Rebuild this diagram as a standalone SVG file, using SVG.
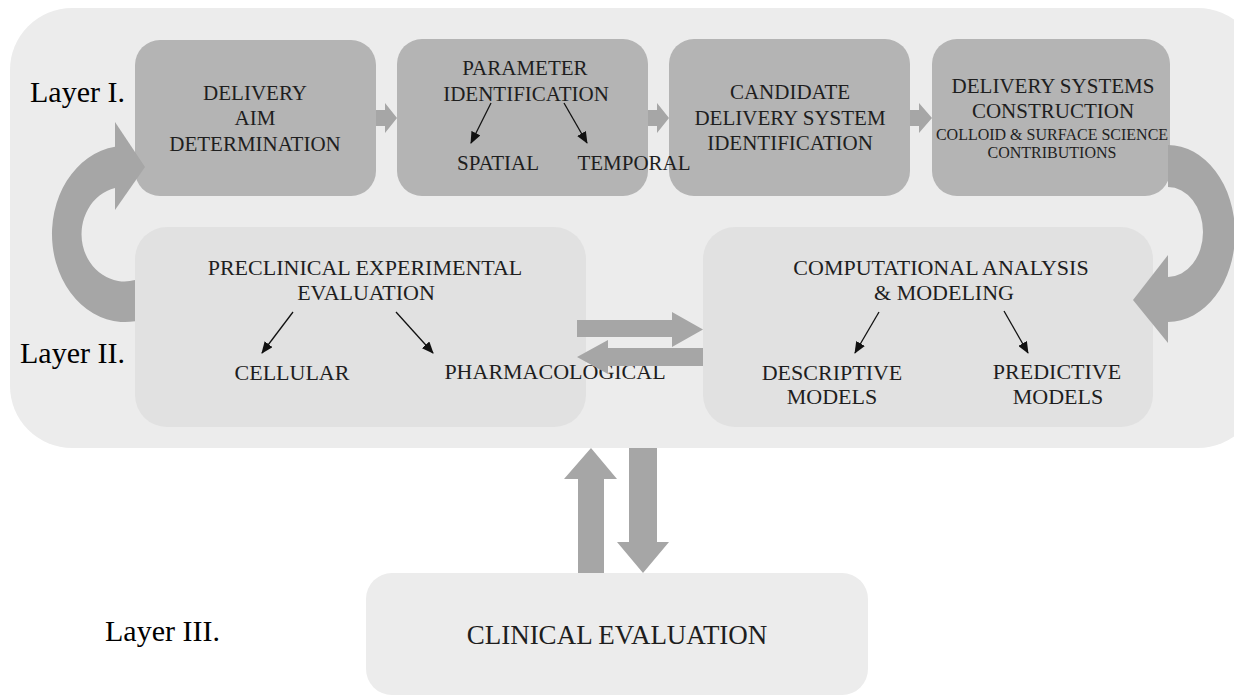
<svg xmlns="http://www.w3.org/2000/svg" width="1234" height="697" viewBox="0 0 1234 697">
<defs>
<style>
.l1{fill:#b4b4b4}
.l2{fill:#e1e1e1}
.cl{fill:#ececec}
.big{fill:#a6a6a6}
.t{font-family:"Liberation Serif","Times New Roman",serif;fill:#1e1e1e;text-anchor:middle}
.t21{font-size:21px}
.t22{font-size:22px}
.t16{font-size:16px}
.lay{font-family:"Liberation Serif","Times New Roman",serif;font-size:30px;fill:#000}
.thin{stroke:#111;stroke-width:1.3;fill:none;marker-end:url(#ah)}
</style>
<marker id="ah" markerUnits="userSpaceOnUse" markerWidth="12" markerHeight="10" refX="11" refY="5" orient="auto">
<path d="M0,0 L12,5 L0,10 Z" fill="#111"/>
</marker>
</defs>
<rect width="1234" height="697" fill="#ffffff"/>
<rect id="background" x="10" y="8" width="1250" height="440" rx="62" fill="#ececec"/>

<text class="lay" x="30" y="102">Layer I.</text>
<text class="lay" x="20" y="363">Layer II.</text>
<text class="lay" x="105" y="641">Layer III.</text>

<g id="delivery-aim">
<rect class="l1" x="135" y="40" width="241" height="156" rx="25"/>
<text class="t t21" x="255" y="100">DELIVERY</text>
<text class="t t21" x="255" y="125">AIM</text>
<text class="t t21" x="255" y="151">DETERMINATION</text>
</g>
<g id="candidate-system">
<rect class="l1" x="669" y="39" width="241" height="157" rx="25"/>
<text class="t t21" x="790" y="99">CANDIDATE</text>
<text class="t t21" x="790" y="125">DELIVERY SYSTEM</text>
<text class="t t21" x="790" y="150">IDENTIFICATION</text>
</g>
<g id="parameter-identification">
<rect class="l1" x="397" y="39" width="251" height="157" rx="25"/>
<text class="t t21" x="525" y="75">PARAMETER</text>
<text class="t t21" x="526" y="101">IDENTIFICATION</text>
<text class="t t21" x="498" y="170">SPATIAL</text>
<text class="t t21" x="634" y="170">TEMPORAL</text>
</g>
<g id="systems-construction">
<rect class="l1" x="932" y="39" width="238" height="157" rx="25"/>
<text class="t t21" x="1053" y="93">DELIVERY SYSTEMS</text>
<text class="t t21" x="1053" y="118">CONSTRUCTION</text>
<text class="t t16" x="1052" y="140">COLLOID &amp; SURFACE SCIENCE</text>
<text class="t t16" x="1052" y="158">CONTRIBUTIONS</text>
</g>

<g id="preclinical">
<rect class="l2" x="135" y="227" width="451" height="200" rx="32"/>
<text class="t t22" x="365" y="275">PRECLINICAL EXPERIMENTAL</text>
<text class="t t22" x="366" y="300">EVALUATION</text>
<text class="t t22" x="292" y="380">CELLULAR</text>
<text class="t t22" x="555" y="379">PHARMACOLOGICAL</text>
</g>
<g id="computational">
<rect class="l2" x="703" y="227" width="450" height="200" rx="32"/>
<text class="t t22" x="941" y="275">COMPUTATIONAL ANALYSIS</text>
<text class="t t22" x="944" y="300">&amp; MODELING</text>
<text class="t t22" x="832" y="380">DESCRIPTIVE</text>
<text class="t t22" x="832" y="404">MODELS</text>
<text class="t t22" x="1057" y="379">PREDICTIVE</text>
<text class="t t22" x="1058" y="404">MODELS</text>
</g>
<g id="clinical">
<rect class="cl" x="366" y="573" width="502" height="122" rx="26"/>
<text class="t" style="font-size:27px" x="617" y="644">CLINICAL EVALUATION</text>
</g>

<g id="connectors">
<path class="big" d="M376,110 H385 V103 L397,118 L385,133 V126 H376 Z"/>
<path class="big" d="M648,110 H657 V103 L669,118 L657,133 V126 H648 Z"/>
<path class="big" d="M910,110 H919 V103 L932,118 L919,133 V126 H910 Z"/>
<path class="big" d="M135,321.2 A73,88 0 1 1 115,146.8 L115,188 A43,47.3 0 1 0 135,280 Z"/>
<path class="big" d="M115,122 L145,167 L115,210 Z"/>
<path class="big" d="M1168,145 A67,88.5 0 0 1 1168,322 L1168,277 A35,45 0 0 0 1168,187 Z"/>
<path class="big" d="M1168,255 L1133,300 L1168,343 Z"/>
<path class="big" d="M577,320 H672 V312 L703,329.5 L672,347 V337 H577 Z"/>
<path class="big" d="M703,348 H608 V340 L577,357 L608,374 V366 H703 Z"/>
<path class="big" d="M578,573 V479 H564 L591,448 L617,479 H604 V573 Z"/>
<path class="big" d="M629,448 V542 H617 L643,573 L669,542 H657 V448 Z"/>
<line class="thin" x1="491" y1="103" x2="471" y2="143"/>
<line class="thin" x1="564" y1="103" x2="587" y2="143"/>
<line class="thin" x1="293" y1="312" x2="262" y2="353"/>
<line class="thin" x1="396" y1="312" x2="433" y2="353"/>
<line class="thin" x1="879" y1="312" x2="855" y2="353"/>
<line class="thin" x1="1004" y1="311" x2="1028" y2="353"/>
</g>
</svg>
